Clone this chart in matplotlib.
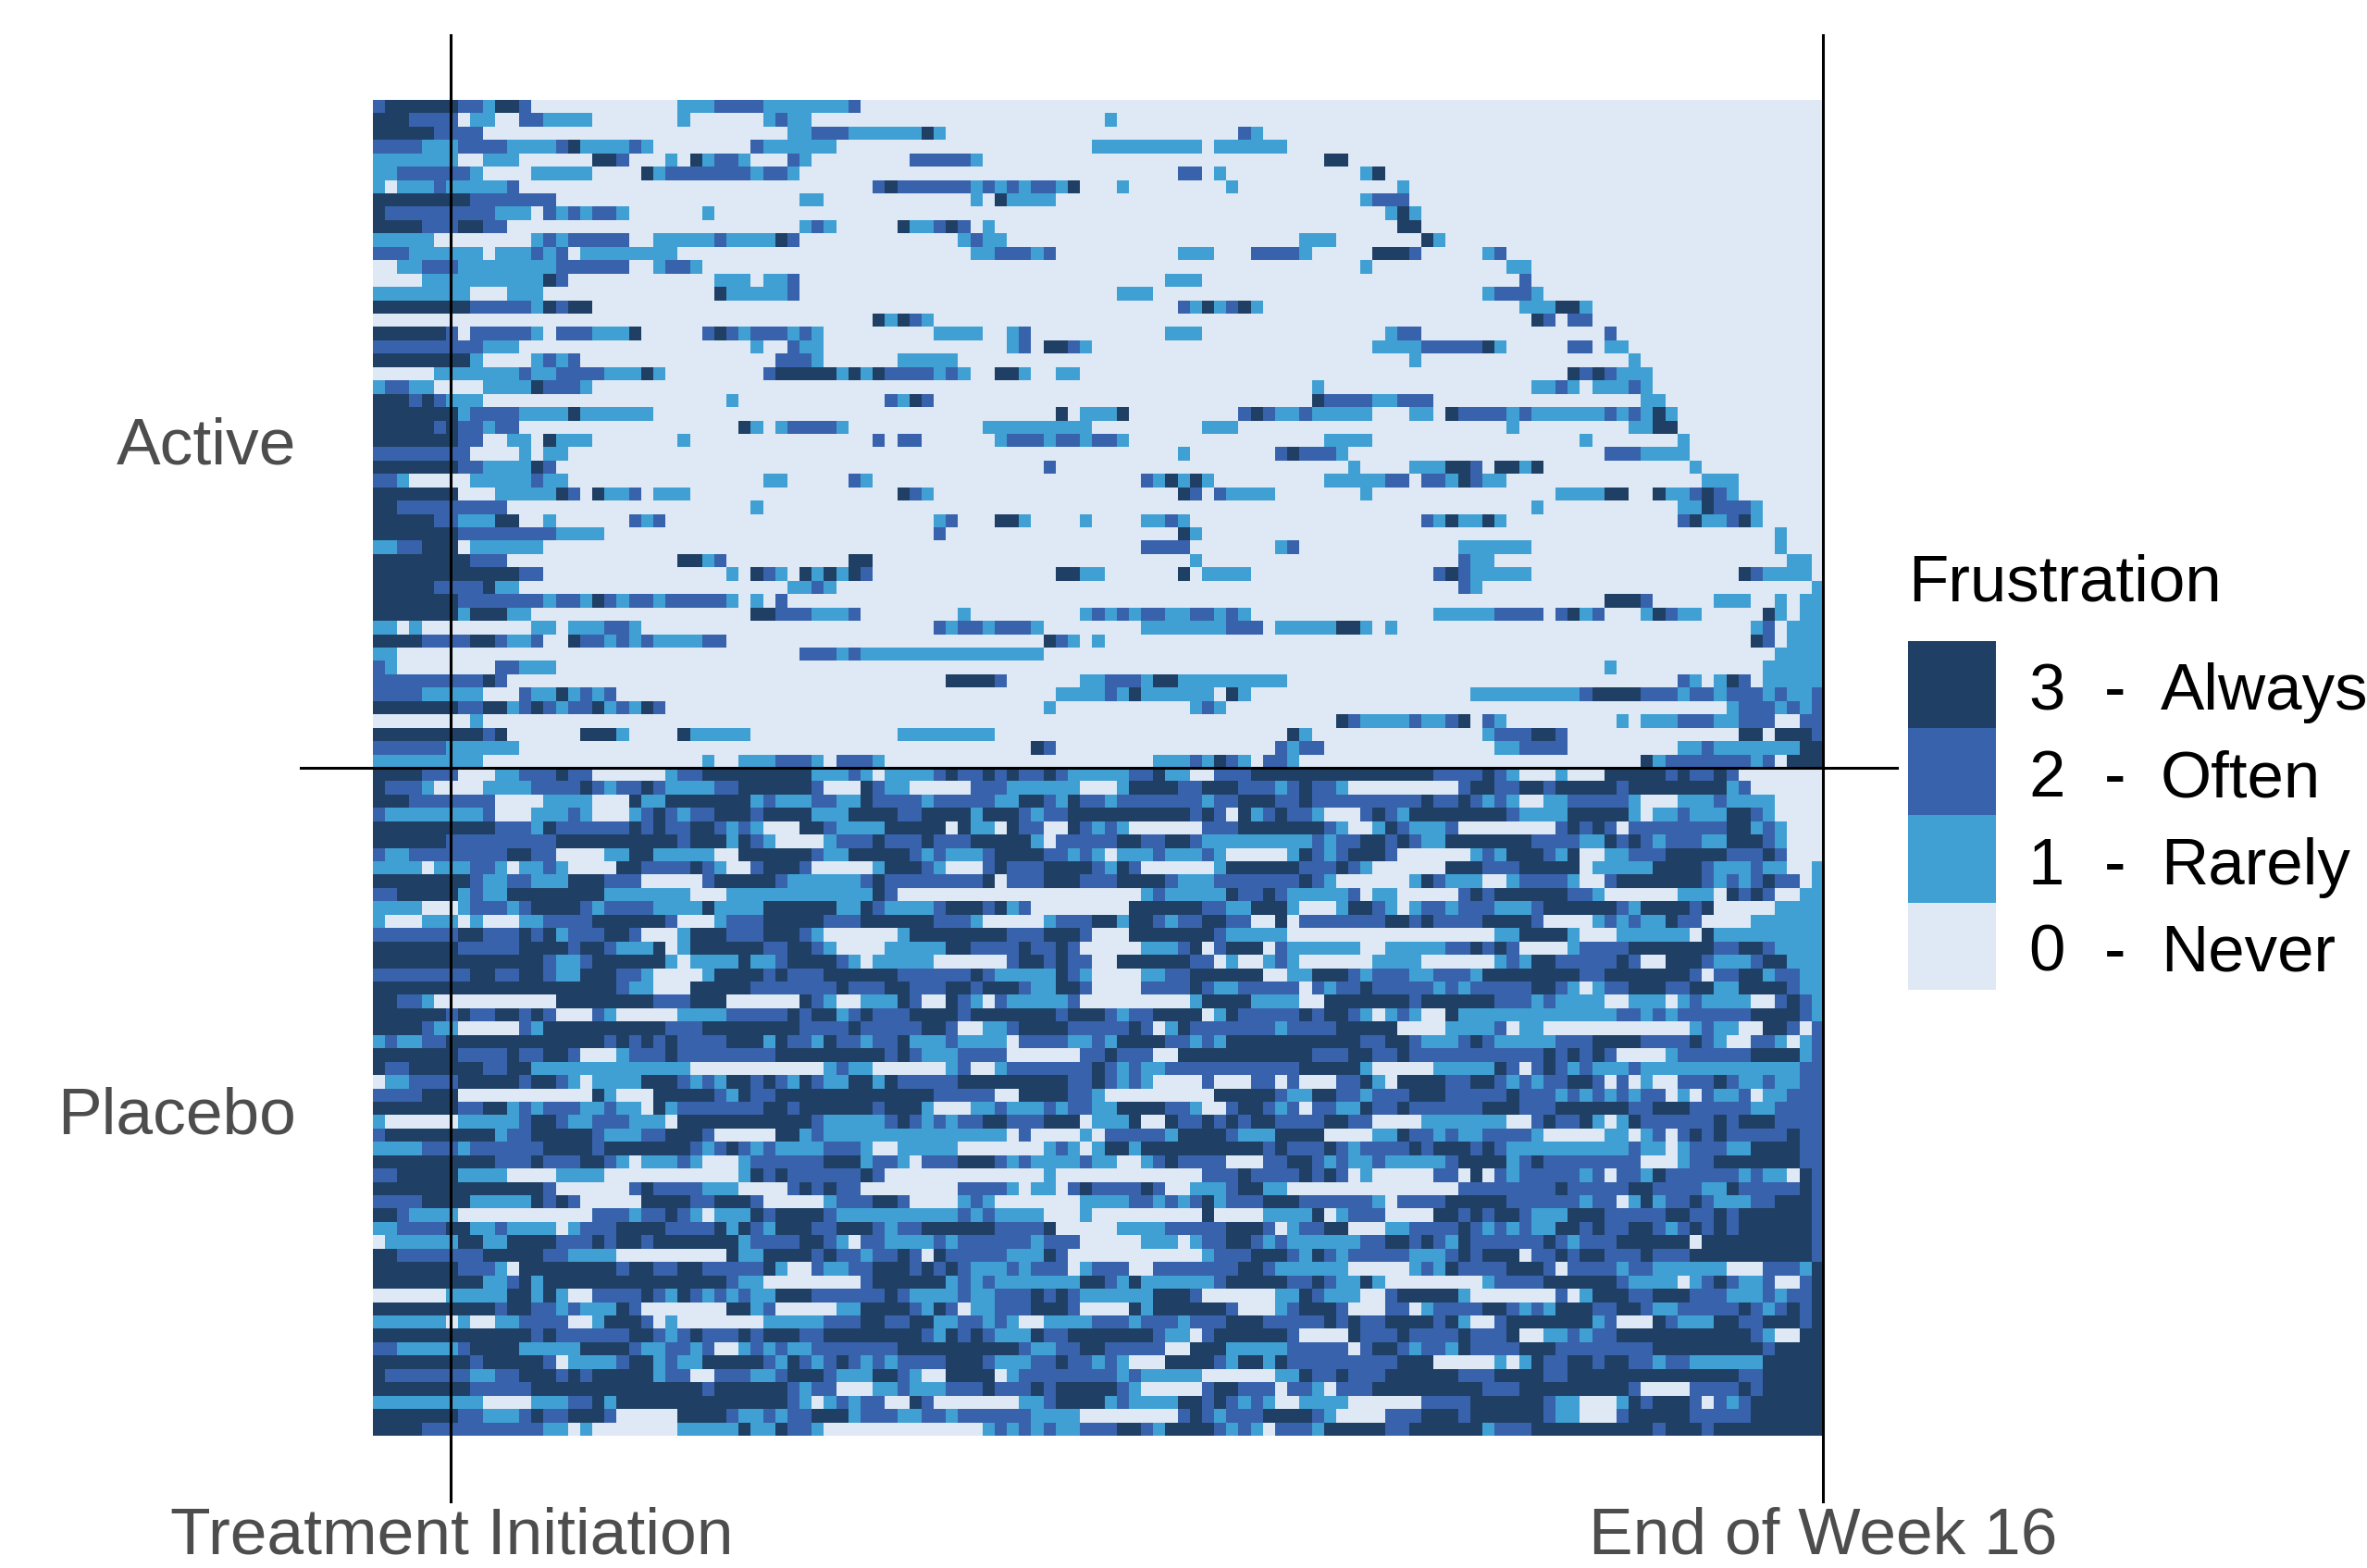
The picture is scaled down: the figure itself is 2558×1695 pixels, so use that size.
import numpy as np
import matplotlib
matplotlib.use('Agg')
import matplotlib.pyplot as plt
from matplotlib.colors import ListedColormap

plt.rcParams['font.family'] = ['Liberation Sans', 'DejaVu Sans']

# each row is a list of "first column:score" changes, 0 until the first one
n_days = 119
active_rows = [
    "0:2 1:3 7:2 9:1 10:3 12:2 13:0 25:1 28:2 32:1 39:2 40:0",
    "0:3 3:2 7:0 8:1 10:0 12:2 14:1 18:0 25:1 26:0 32:1 33:2 34:1 36:0 60:1 61:0",
    "0:3 5:2 9:0 34:1 36:2 39:1 45:3 46:1 47:0 71:2 72:1 73:0",
    "0:2 4:1 7:2 11:1 15:2 16:3 17:1 21:2 22:1 23:0 31:2 32:1 38:0 59:1 68:0 69:1 75:0",
    "0:1 7:0 9:1 12:0 18:3 20:2 21:0 24:1 25:0 26:3 27:1 28:2 30:1 31:0 34:2 35:1 36:0 44:2 49:1 50:0 78:3 80:0",
    "0:1 2:2 8:1 9:0 13:1 18:0 22:3 23:1 24:2 31:1 32:2 34:1 35:0 66:2 68:0 69:1 70:0 81:1 82:3 83:0",
    "0:1 1:0 2:1 5:2 6:1 11:2 12:0 41:2 42:3 43:2 49:1 50:2 51:1 52:2 53:1 54:2 56:1 57:3 58:0 61:1 62:0 70:1 71:0 84:1 85:0",
    "0:3 8:2 15:0 35:1 37:0 49:1 50:0 51:3 52:1 56:0 81:1 82:2 85:0",
    "0:3 1:2 10:1 13:0 14:2 15:1 16:2 17:1 18:2 20:1 21:0 27:1 28:0 83:1 84:3 85:1 86:0",
    "0:3 4:2 7:3 9:2 11:0 35:1 36:2 37:1 38:0 43:3 44:1 46:2 47:3 48:2 49:0 50:1 51:0 84:3 86:0",
    "0:1 5:0 13:1 14:2 15:1 16:2 21:0 23:1 28:2 29:1 33:3 34:2 35:0 48:1 49:2 50:1 52:0 76:1 79:0 86:3 87:1 88:0",
    "0:2 3:1 9:0 10:1 13:2 14:1 15:2 16:0 17:1 25:0 49:1 51:2 54:1 55:2 56:0 66:1 69:0 72:2 76:1 77:0 82:3 85:2 86:0 91:1 92:2 93:0",
    "0:0 2:1 4:2 7:1 15:2 21:0 23:1 24:2 26:1 27:0 81:1 82:0 93:1 95:0",
    "4:1 14:3 15:2 16:0 28:1 31:0 32:1 34:2 35:0 65:1 68:0 94:2 95:0",
    "0:1 8:0 11:1 14:0 28:3 29:1 34:2 35:0 61:1 64:0 91:1 92:2 95:1 96:0",
    "0:3 8:2 13:1 14:3 15:2 16:3 18:0 66:2 67:1 68:3 69:1 70:2 71:3 72:1 73:0 94:1 97:3 99:1 100:0",
    "41:3 42:1 43:3 44:2 45:1 46:0 95:3 96:2 97:0 98:2 100:0",
    "0:3 6:2 7:0 8:2 13:1 14:0 15:2 18:1 21:3 22:0 27:2 28:3 29:2 30:1 31:2 34:1 35:2 36:1 37:0 46:1 50:0 52:1 53:2 54:0 65:1 68:0 83:1 84:2 86:0 101:2 102:0",
    "0:2 9:1 12:0 31:1 32:0 34:2 35:1 37:0 52:1 53:2 54:0 55:3 57:2 58:1 59:0 82:1 86:2 91:3 92:1 93:0 98:2 100:0 101:1 103:0",
    "0:3 8:1 9:0 13:1 14:2 15:1 16:2 17:0 33:2 36:1 37:0 43:1 48:0 85:1 86:0 103:1 104:0",
    "5:1 12:2 13:1 15:2 19:1 22:3 23:1 24:0 32:2 33:3 38:1 39:3 40:1 41:3 42:2 46:1 47:2 48:1 49:0 51:3 53:1 54:0 56:1 58:0 98:3 99:2 100:3 101:2 102:1 105:0",
    "0:1 1:2 3:1 5:0 9:1 13:3 14:2 17:1 18:0 77:1 78:0 95:1 97:2 98:1 99:0 100:1 103:2 104:1 105:0",
    "0:3 3:2 4:3 5:2 6:1 9:0 29:1 30:0 42:2 43:1 44:3 45:2 46:0 77:3 78:2 82:1 84:2 87:0 104:1 106:0",
    "0:3 7:1 8:2 12:1 16:3 17:1 23:0 56:3 57:0 58:1 61:3 62:0 71:2 72:3 73:2 74:1 76:2 77:1 82:0 85:1 87:0 88:3 89:2 93:1 94:2 95:1 101:2 102:1 103:2 104:1 105:3 106:1 107:0",
    "0:3 5:2 6:3 7:2 9:1 10:2 12:0 30:3 31:1 32:0 33:1 34:2 38:1 39:0 50:1 59:0 68:1 71:0 93:1 94:0 103:1 105:3 107:0",
    "0:3 7:2 9:0 11:1 13:0 14:3 15:1 18:0 25:1 26:0 41:2 42:0 43:2 45:0 51:1 52:2 55:1 56:2 58:1 59:2 61:1 62:0 78:1 82:0 99:1 100:0 107:1 108:0",
    "0:2 8:0 12:1 13:0 14:1 16:0 66:1 67:0 74:2 75:3 76:2 79:1 80:0 101:2 104:1 108:0",
    "0:3 7:2 9:1 13:3 14:2 15:0 55:2 56:0 80:1 81:0 85:1 88:3 90:2 91:0 92:3 94:1 95:3 96:0 108:1 109:0",
    "0:2 2:1 3:0 8:1 13:2 14:1 16:0 32:1 34:0 39:2 40:1 41:0 63:2 64:1 65:3 66:1 67:3 68:1 69:0 78:1 83:2 85:0 86:2 88:1 89:3 90:2 91:1 93:0 109:1 112:0",
    "0:3 7:0 10:1 15:3 16:2 17:0 18:3 19:1 21:2 22:0 23:1 26:0 43:3 44:2 45:1 46:0 66:3 67:2 68:0 69:2 70:1 74:0 81:1 82:0 97:1 101:3 103:0 105:3 106:1 108:2 109:3 110:2 111:1 112:0",
    "0:3 2:2 11:0 31:1 32:0 95:1 96:0 107:1 109:3 110:2 113:1 114:0",
    "0:3 5:2 7:1 10:3 12:0 14:1 15:0 21:2 22:1 23:2 24:0 46:1 47:2 48:0 51:3 53:1 54:0 58:1 59:0 63:1 65:2 66:1 67:0 86:2 87:1 88:3 89:1 91:3 92:1 93:0 107:2 108:3 109:1 111:2 112:3 113:1 114:0",
    "0:3 7:2 15:1 19:0 46:2 47:0 66:3 67:1 68:0 115:1 116:0",
    "0:1 2:2 4:3 7:0 8:1 14:0 63:2 67:0 74:1 75:2 76:0 89:1 95:0 115:1 116:0",
    "0:3 8:2 11:0 25:3 27:1 28:2 29:0 39:3 41:0 67:1 68:0 89:2 90:1 92:0 116:1 118:0",
    "0:3 12:2 14:0 29:1 30:0 31:3 32:2 33:1 34:0 35:3 36:1 37:3 38:1 39:3 40:2 41:0 56:3 58:1 60:0 66:3 67:0 68:1 72:0 87:2 88:3 89:2 90:1 95:0 112:3 113:2 114:1 118:0",
    "0:3 5:2 9:3 10:1 12:0 34:1 36:2 37:1 38:0 89:2 90:1 91:0 118:1",
    "0:3 7:2 14:1 15:2 17:1 18:3 19:2 20:1 21:2 23:1 24:2 29:1 30:0 31:1 32:0 33:2 34:0 101:3 104:2 105:0 110:1 113:0 115:1 116:0 117:1",
    "0:3 7:1 8:3 11:1 13:0 31:3 33:2 36:1 39:2 40:0 48:1 49:0 58:1 59:2 60:1 61:2 62:1 63:2 65:1 67:2 69:1 70:2 71:1 72:0 87:1 92:2 96:0 97:2 98:3 99:1 100:2 101:0 104:1 105:3 106:2 107:1 109:0 114:3 115:1 116:0 117:1",
    "0:1 2:0 3:1 4:0 13:1 15:0 16:1 19:2 21:1 22:0 46:2 47:1 48:2 50:1 51:2 54:1 55:0 63:1 70:2 73:0 74:1 79:3 81:1 82:0 83:1 84:0 113:1 114:2 115:0 116:1",
    "0:3 4:2 8:3 10:2 11:1 13:2 14:0 16:3 17:2 19:1 20:2 21:1 22:2 23:1 27:2 29:0 55:3 56:2 57:1 58:0 59:1 60:0 113:3 114:2 115:0 116:1",
    "0:1 2:0 35:2 38:1 39:2 40:1 55:0 115:1",
    "0:2 1:1 2:0 10:2 12:1 15:0 101:1 102:0 114:1",
    "0:2 9:3 10:2 11:0 47:3 51:2 52:0 58:1 60:2 63:1 64:3 66:1 75:0 107:2 108:1 109:0 110:1 111:3 112:2 113:0 114:1",
    "0:2 4:1 9:0 12:2 13:1 15:3 16:1 17:2 18:1 19:2 20:0 56:1 60:2 61:1 62:3 63:1 69:0 70:3 71:1 72:0 90:1 99:2 100:3 104:2 107:1 108:2 110:1 111:2 114:1 115:2 116:1 118:2",
    "0:3 7:2 9:3 11:1 12:2 13:3 14:2 15:1 16:2 18:3 19:1 20:2 21:1 22:3 23:2 24:0 55:1 56:0 67:1 68:2 69:1 70:0 111:1 112:2 115:1 116:2 117:1 118:2",
    "8:1 9:0 79:3 80:2 81:1 85:2 86:1 88:2 89:3 90:0 91:2 92:1 93:0 102:1 103:0 104:1 107:2 110:1 112:2 115:0 117:2",
    "0:3 9:2 10:3 11:0 17:3 20:1 21:0 25:3 26:1 31:0 43:1 51:0 75:3 76:1 77:0 91:1 92:2 95:3 97:2 98:0 112:3 114:0 115:3 118:2",
    "0:2 6:1 12:0 54:3 55:2 56:0 74:2 75:1 76:2 78:0 92:1 94:2 98:0 107:1 109:2 110:1 117:3",
    "0:1 9:0 27:1 28:0 30:1 33:2 36:1 37:0 38:2 41:1 42:0 64:1 67:2 68:1 69:3 70:2 71:1 72:0 73:2 75:1 76:0 104:3 105:1 106:2 113:1 114:2 115:0 116:3",
]
placebo_rows = [
    "0:3 4:2 7:0 10:1 12:2 15:3 16:2 18:0 24:1 25:2 27:3 36:1 39:2 40:1 41:0 42:1 46:2 47:3 48:2 50:3 51:2 52:3 53:2 55:3 56:2 57:1 62:2 64:3 65:1 67:0 69:2 72:3 87:2 91:3 92:2 93:1 94:0 97:1 98:0 101:3 106:2 107:3 108:2 110:3 111:2 112:0",
    "0:3 1:2 4:1 5:0 9:1 13:2 17:3 18:2 19:1 20:2 22:3 23:2 24:1 28:2 30:3 36:2 37:0 40:3 41:2 42:1 44:0 49:2 52:1 58:0 61:1 62:3 66:2 68:3 71:2 74:1 75:2 76:3 77:2 79:1 80:0 89:2 90:3 92:2 94:3 96:2 97:3 102:2 103:3 111:1 112:2 113:0",
    "0:3 3:2 10:0 14:1 18:0 21:3 22:1 24:3 31:1 32:2 33:1 36:2 38:1 40:3 41:2 45:1 46:2 51:1 53:3 55:2 56:1 57:3 58:2 60:1 61:2 68:1 69:2 71:3 74:2 76:3 77:2 86:3 87:2 89:3 90:2 91:1 92:2 93:1 94:0 96:1 98:2 103:1 104:0 107:1 110:2 111:1 115:0",
    "0:2 1:1 9:2 10:0 13:1 16:2 17:1 18:0 21:1 22:2 23:3 24:2 25:1 26:2 28:3 31:2 32:3 36:1 39:3 43:2 45:3 49:1 50:3 53:2 54:1 55:2 57:3 67:2 68:3 69:2 70:0 71:3 72:1 73:2 74:3 75:2 77:1 78:0 81:2 82:3 83:2 84:1 85:3 93:2 94:1 98:3 103:1 104:0 105:1 107:2 108:1 111:3 113:2 114:1 115:0",
    "0:3 10:2 13:1 14:3 15:2 21:3 22:2 23:3 24:2 26:3 28:2 29:1 30:2 31:1 32:0 35:3 37:2 38:1 42:3 47:0 48:3 49:1 51:0 52:3 53:2 55:0 57:3 58:2 59:1 60:2 61:1 62:0 68:2 71:3 78:2 79:1 80:0 82:1 83:3 84:2 85:1 88:2 89:0 97:2 98:3 99:2 100:3 101:2 102:0 103:2 111:3 113:1 114:2 115:1 116:0",
    "0:3 6:2 15:3 25:2 26:3 29:1 30:3 31:2 32:1 33:0 37:1 38:2 41:3 42:2 45:3 46:2 49:3 54:1 55:0 56:2 61:3 63:2 65:3 67:2 68:1 77:2 78:1 79:2 81:3 83:2 84:3 85:2 86:1 88:3 95:2 99:1 101:3 102:2 103:3 104:2 105:1 106:2 109:1 111:3 114:2 115:1 116:0",
    "0:2 1:1 3:2 11:3 13:2 15:0 19:1 21:3 23:1 28:0 30:3 36:2 37:1 39:3 44:2 45:1 46:2 47:1 50:2 51:3 55:2 57:1 58:2 59:1 60:0 61:1 64:2 65:1 68:2 69:1 70:0 75:1 76:3 77:2 78:1 79:2 80:3 83:2 84:0 90:1 91:2 92:1 93:3 96:2 97:1 98:3 99:0 101:1 103:2 106:3 111:2 114:3 115:2 116:0",
    "0:1 4:0 5:1 8:2 10:1 11:0 12:1 14:2 15:1 16:0 20:3 22:2 26:3 27:2 28:1 29:0 31:2 32:3 35:2 36:0 41:1 42:3 45:2 46:1 47:0 50:2 51:3 52:2 55:3 59:2 60:1 61:3 62:2 63:0 69:1 70:3 76:2 79:3 80:2 81:1 82:0 88:3 91:2 94:3 99:0 100:1 105:3 109:2 110:1 113:2 114:1 116:0 118:1",
    "0:3 8:2 9:1 11:2 13:1 16:3 19:2 22:0 27:2 28:3 33:2 34:1 40:2 41:3 42:2 50:3 51:0 52:2 55:3 58:2 61:3 65:2 66:1 69:2 76:3 77:2 78:1 79:0 85:1 86:3 87:2 88:1 91:0 93:1 94:2 98:1 99:0 101:2 102:3 109:2 110:1 111:2 112:1 113:2 114:3 115:2 117:0 118:1",
    "0:2 2:3 7:1 8:2 9:1 11:3 19:1 26:0 29:1 41:3 42:2 43:0 63:1 64:2 65:1 70:3 71:2 73:3 74:2 75:1 80:2 81:0 82:1 84:0 89:2 90:3 91:2 92:3 98:2 100:1 101:0 107:1 110:0 111:3 112:2 113:3 114:2 115:0 117:1",
    "0:1 4:0 7:1 8:2 11:1 12:2 13:3 17:2 18:1 19:2 23:1 27:3 28:1 32:3 38:1 40:3 41:2 42:1 46:2 47:3 50:2 51:3 52:1 53:2 54:0 62:3 68:2 70:1 72:3 75:1 76:0 79:1 80:3 82:2 83:1 84:0 85:1 86:2 88:1 89:2 92:1 95:2 96:3 102:2 103:1 104:3 108:2 109:3 110:0 115:1",
    "0:1 1:0 4:1 7:0 8:1 9:0 12:1 14:2 18:3 24:2 25:0 28:1 29:2 32:3 37:2 40:3 46:2 49:1 50:0 55:1 56:2 59:3 61:1 62:3 64:2 65:1 66:2 68:3 70:2 72:0 74:3 75:0 76:2 83:3 85:2 86:3 87:2 91:3 95:2 96:0 100:1 101:2 102:1 103:2 104:1 106:3 107:2 109:0 113:1",
    "0:2 7:3 9:2 12:3 13:2 14:3 15:1 16:2 19:3 21:2 22:0 25:1 26:3 29:2 32:3 35:2 36:1 37:0 43:1 44:3 52:2 55:3 58:2 59:0 62:3 69:2 70:1 75:0 92:1 94:3 98:1 99:0 102:1 108:0 109:3 110:1",
    "0:3 7:2 12:3 16:2 17:3 19:2 20:1 23:3 24:0 25:1 26:3 32:2 34:3 36:2 37:1 38:0 42:1 47:3 49:2 53:3 54:2 56:3 57:2 58:0 63:1 66:2 67:3 68:0 69:2 70:3 73:0 74:2 75:1 81:0 83:1 88:2 90:3 91:2 92:3 93:2 94:0 98:1 99:2 103:3 110:2 112:3 114:2 115:1",
    "0:3 14:2 15:1 17:2 18:3 24:1 25:0 26:1 30:3 31:1 33:2 34:3 38:2 39:1 40:0 41:1 46:0 52:2 53:3 55:2 56:3 57:2 59:0 61:3 67:2 69:0 70:1 71:0 73:1 74:2 75:1 76:0 82:1 86:0 92:1 93:2 94:1 95:3 97:2 102:3 103:2 104:0 106:3 109:2 110:1 113:2 114:3 116:1",
    "0:2 8:3 10:2 12:3 14:2 15:1 17:3 20:2 22:1 23:0 27:1 28:3 32:2 33:3 34:2 37:3 43:2 49:3 50:2 51:1 56:3 57:2 58:1 59:0 63:1 65:2 67:3 73:0 75:1 77:3 80:2 81:1 82:2 85:1 87:2 90:1 91:3 99:2 101:3 108:2 109:0 110:2 112:3 114:1 115:2 117:1",
    "0:3 20:2 21:1 23:0 26:3 31:2 38:3 39:2 42:3 44:2 47:3 49:2 50:3 53:2 54:1 56:3 58:2 59:0 63:2 67:3 68:2 69:1 71:2 76:0 77:2 78:1 79:2 81:3 82:2 87:1 88:2 89:1 90:2 95:3 97:2 98:1 99:0 100:1 101:2 103:3 106:2 108:3 110:1 112:3 116:2 117:1",
    "0:3 2:2 4:1 5:0 15:3 23:2 26:3 29:0 35:3 36:2 37:1 38:0 40:1 43:3 44:2 45:0 47:3 48:2 49:1 50:0 51:2 52:1 57:2 58:0 67:1 68:3 72:1 76:0 78:3 85:2 86:3 92:2 95:1 96:2 97:1 101:0 103:1 106:0 107:1 108:2 109:1 113:0 115:2 116:3 117:2 118:1",
    "0:3 6:2 7:3 8:2 10:3 12:2 13:3 14:2 15:0 18:2 19:1 20:0 25:1 29:2 34:3 35:2 36:3 38:1 39:2 40:3 41:2 44:3 48:2 49:3 56:2 57:3 60:2 61:1 62:2 64:3 68:0 69:1 70:3 71:2 76:3 77:2 78:3 80:2 81:1 82:0 83:1 84:2 85:1 86:0 88:3 89:1 102:2 104:1 105:2 106:1 107:2 113:3 117:2 118:1",
    "0:3 4:2 5:1 7:0 12:2 13:1 14:3 24:2 27:3 35:2 39:3 40:2 45:3 47:2 48:0 50:1 52:2 53:3 57:2 62:3 63:2 64:0 65:1 66:3 67:2 74:1 75:2 79:3 84:0 88:1 92:2 93:0 94:1 96:0 108:1 109:2 110:1 112:0 114:3 116:2 117:0 118:2",
    "0:1 1:2 2:1 4:2 6:3 19:2 20:3 21:2 22:3 23:2 24:3 25:2 29:3 32:1 33:3 34:2 36:1 37:3 38:2 40:1 41:2 43:3 44:1 47:2 48:1 52:0 53:2 57:1 59:2 60:1 61:3 65:2 67:1 68:2 69:1 70:3 81:2 83:3 85:2 86:1 89:2 90:3 91:2 92:1 97:2 100:3 104:2 108:3 109:2 110:1 111:0 113:2 115:1 116:0 117:1 118:2",
    "0:3 7:2 11:3 12:2 14:3 16:2 17:0 20:1 21:2 24:3 25:2 33:3 42:2 43:3 44:2 45:1 48:2 52:0 58:2 60:3 61:2 64:0 66:3 77:2 80:3 82:2 84:3 85:2 96:3 97:2 98:3 99:2 100:3 101:2 102:0 106:1 107:2 113:3 117:1 118:2",
    "0:3 1:2 3:3 9:2 11:3 13:1 26:0 37:1 38:2 39:1 41:0 47:1 48:2 49:0 51:1 52:2 59:3 60:2 61:1 62:2 63:1 65:2 76:3 81:1 82:0 87:1 92:3 93:2 94:0 95:2 96:3 97:2 98:1 99:2 100:1 103:2 104:1 117:2",
    "0:0 1:1 3:2 7:3 12:2 13:3 15:2 16:1 17:0 18:1 22:3 25:2 26:1 27:2 28:1 29:3 31:2 32:3 33:2 34:1 35:3 36:2 37:1 39:3 41:1 42:3 43:2 48:3 57:2 59:3 60:2 61:1 62:2 63:1 64:0 68:2 69:0 72:2 74:0 75:2 76:0 79:2 81:3 82:1 83:0 84:3 88:2 90:3 92:2 93:1 94:2 95:1 96:2 98:3 100:2 101:0 102:2 103:0 104:1 105:0 107:2 110:3 111:2 112:1 114:2 115:1 117:2",
    "0:2 4:3 7:0 18:3 19:1 20:0 23:3 28:2 29:1 30:3 31:2 33:3 46:2 51:0 53:3 57:2 59:1 60:0 69:3 74:2 75:1 77:3 79:2 81:1 82:2 85:3 88:2 93:3 94:2 97:1 98:2 99:1 100:2 101:1 102:2 103:1 104:2 106:0 107:1 108:0 109:2 110:1 112:2 113:0 114:1 116:2",
    "0:3 7:2 9:3 11:1 12:2 13:1 14:2 17:1 19:2 20:1 22:0 23:3 24:1 25:2 32:3 34:2 35:3 41:2 42:3 45:1 46:0 49:1 51:2 52:1 55:2 56:1 57:2 59:1 61:3 65:2 67:1 68:0 70:2 71:3 73:2 74:1 75:2 76:0 77:2 79:1 81:3 82:2 84:3 85:2 91:3 94:2 97:3 103:2 105:3 108:2 113:1 115:2",
    "0:1 1:0 7:1 12:2 13:3 15:2 16:1 18:2 21:1 24:0 25:3 36:2 37:1 42:2 43:3 44:2 45:1 46:2 47:1 48:2 50:3 52:2 55:3 58:0 59:1 62:3 63:0 65:3 66:2 68:3 69:2 70:3 71:2 72:3 74:2 78:3 80:2 82:0 86:1 93:0 95:2 96:3 97:2 99:3 100:1 101:0 102:1 103:3 104:2 110:3 111:2 112:3 115:2",
    "0:2 1:3 10:1 11:2 13:3 18:2 19:1 22:2 24:3 27:2 28:0 33:3 35:1 36:2 37:1 52:0 53:2 54:0 58:1 59:0 60:2 65:1 66:3 70:2 71:1 74:3 78:0 82:1 84:3 85:2 87:1 88:2 89:1 91:2 95:1 96:0 101:1 103:0 104:1 105:2 106:0 107:2 108:3 109:2 110:3 111:2 116:3 117:2",
    "0:1 4:2 7:1 8:2 14:3 18:2 19:3 26:2 27:1 28:2 29:3 30:2 31:1 32:2 33:1 37:2 40:1 41:0 43:1 48:0 55:1 56:2 57:1 58:0 59:1 60:3 62:1 63:3 73:2 74:3 75:2 78:3 79:2 80:1 81:2 85:3 86:2 87:3 90:2 91:3 92:2 93:1 103:2 104:1 106:0 107:1 108:2 111:1 113:3 117:2",
    "0:3 10:2 13:3 14:2 17:3 19:2 20:1 21:0 22:1 25:2 26:1 27:0 30:1 31:2 37:3 40:1 41:2 43:1 44:0 45:2 48:3 51:2 52:1 53:2 54:1 58:2 59:1 61:0 63:1 64:2 65:3 66:2 70:0 73:2 75:3 77:2 78:1 79:2 80:1 82:2 83:1 88:2 89:3 93:1 94:2 95:3 96:2 104:0 107:1 108:2 110:3 117:2",
    "0:2 2:3 7:1 11:0 15:1 19:0 30:1 31:3 32:2 33:3 34:2 40:3 41:2 42:0 55:1 56:0 68:2 71:3 72:2 76:3 77:2 78:3 79:2 80:0 81:1 82:0 87:2 89:0 90:3 91:0 92:2 93:1 94:2 99:1 100:2 101:0 102:2 104:1 105:3 106:2 112:1 113:2 114:1 116:0 117:3 118:2",
    "0:3 14:2 15:0 21:2 22:3 23:2 27:1 30:0 34:2 35:3 36:2 37:3 38:2 40:0 48:2 52:1 53:0 54:1 56:0 57:2 58:3 59:2 63:3 64:2 65:0 67:1 70:2 71:3 73:1 75:0 89:2 97:3 98:2 103:3 105:2 109:1 111:3 112:2 117:3 118:2",
    "0:2 4:3 8:1 13:3 14:2 15:3 16:2 17:0 22:3 26:2 28:3 31:2 32:0 37:1 38:2 41:3 43:2 44:0 48:1 49:2 50:1 51:0 58:1 62:2 64:1 65:2 66:1 67:2 68:3 69:1 70:2 73:3 76:2 82:1 83:0 84:2 88:3 93:2 99:1 100:2 102:0 103:1 104:3 105:1 106:2 108:3 109:2 110:1 113:2 115:3 118:2",
    "0:3 2:2 3:1 7:0 18:2 21:1 22:2 24:3 25:2 26:1 27:0 28:1 31:3 32:2 33:3 37:2 38:1 48:2 49:1 50:2 51:1 55:0 58:1 59:0 68:3 69:0 73:1 77:3 78:0 79:1 80:2 83:0 87:3 89:2 90:3 91:2 92:3 94:2 95:1 98:3 101:2 106:3 108:2 110:3 111:2 112:3 118:2",
    "0:1 2:2 6:3 8:1 10:2 11:1 15:0 16:1 17:2 20:3 24:2 28:3 29:1 30:3 31:2 32:1 33:3 36:2 38:3 41:2 42:1 43:2 45:3 51:2 55:3 56:0 61:1 65:2 70:3 73:2 74:0 75:1 76:2 78:3 80:0 83:1 85:2 89:3 90:2 91:1 92:2 93:1 94:2 95:1 97:3 99:2 100:3 101:2 103:3 105:2 106:1 107:2 108:3 109:2 110:3 111:2 112:3 118:2",
    "0:0 1:1 7:3 9:1 11:3 15:2 18:3 19:2 20:3 22:2 23:3 30:1 31:2 35:3 37:2 38:1 39:0 40:2 42:1 46:2 47:1 48:2 54:1 55:2 58:0 63:1 66:0 67:1 68:2 70:3 72:2 73:1 74:2 75:1 81:2 83:3 85:2 86:3 87:2 88:1 89:3 90:2 96:3 97:2 98:1 99:2 102:3 108:0 109:3 118:2",
    "0:3 2:2 9:3 14:2 16:1 20:0 29:3 30:1 32:3 36:2 37:3 38:2 40:1 41:2 43:3 44:2 45:0 46:3 47:2 52:1 55:3 56:2 57:0 68:1 69:2 72:3 75:2 76:1 77:3 78:2 79:1 80:2 85:1 88:2 89:3 90:2 91:3 94:0 95:2 97:3 98:2 99:3 101:2 104:3 105:2 108:3 118:2",
    "0:3 7:2 10:1 11:0 12:3 20:2 21:3 23:2 25:3 27:2 32:3 33:1 34:0 36:2 37:1 39:2 41:3 44:2 45:3 46:2 47:3 48:2 49:1 52:2 53:1 54:2 57:0 58:1 59:2 62:0 64:2 71:3 73:2 74:1 80:0 85:1 86:2 87:1 88:3 89:2 93:3 96:2 97:0 98:2 102:1 103:2 105:1 111:0 114:2 117:1 118:3",
    "0:3 9:1 11:2 12:3 13:1 14:3 29:2 30:1 32:0 40:2 41:3 47:1 48:2 49:1 50:2 51:1 58:3 60:2 61:1 62:3 63:1 69:2 70:3 75:2 77:3 78:2 79:1 81:3 82:1 83:0 91:1 92:2 96:3 102:2 103:1 107:0 108:1 109:2 110:3 111:2 112:1 114:2 115:0 117:2 118:3",
    "6:1 11:3 13:1 14:3 15:1 16:0 18:2 22:3 23:2 24:1 25:3 26:2 27:1 28:2 29:1 30:2 31:1 33:3 36:2 42:3 43:2 44:1 48:2 49:1 51:2 54:3 55:2 56:3 57:2 58:1 64:3 67:2 68:0 74:1 76:3 77:2 78:1 81:0 83:2 84:3 89:1 90:0 97:2 98:0 99:1 100:3 103:2 105:3 108:2 111:1 114:2 115:1 116:2 118:3",
    "0:3 10:2 11:3 13:2 15:1 16:2 17:1 20:3 21:2 22:0 29:3 31:1 32:2 33:0 38:1 40:3 44:2 45:1 46:3 47:2 48:0 49:1 51:2 54:3 57:2 58:0 62:3 63:1 64:3 70:2 71:0 74:1 75:2 76:3 79:2 80:0 83:2 85:0 86:1 87:2 91:3 93:2 94:1 95:2 96:1 97:3 100:2 102:3 104:2 105:1 107:2 112:3 113:2 114:1 115:2 116:3 117:2 118:3",
    "0:1 6:0 7:1 8:0 10:1 12:2 16:0 18:1 19:3 22:2 23:0 24:1 25:0 32:1 37:2 40:3 42:2 44:3 46:1 48:2 50:1 51:2 52:1 53:0 55:1 59:2 62:1 63:2 66:1 67:2 70:3 73:2 78:3 79:2 80:3 81:2 83:3 87:2 88:3 89:1 90:0 92:2 93:3 100:1 101:2 102:0 105:3 106:2 107:1 110:3 112:2 114:3 117:2 118:3",
    "0:3 13:2 14:3 15:2 21:3 23:2 24:1 25:2 26:3 27:2 30:3 31:2 32:3 35:2 37:3 45:2 46:1 47:3 48:2 49:3 50:2 51:1 54:3 55:2 57:3 64:2 65:1 67:0 68:2 69:3 75:2 76:0 80:3 81:2 84:3 85:2 89:3 90:2 93:3 94:0 96:1 98:2 99:1 100:2 102:3 113:2 114:1 115:0 117:3",
    "0:2 2:1 7:2 8:3 12:1 17:3 21:2 22:1 24:2 26:1 27:2 28:0 30:1 31:2 32:1 33:2 34:1 36:2 43:3 53:2 54:1 56:2 58:3 60:2 65:0 67:3 70:1 75:2 80:0 81:2 82:3 84:2 85:1 86:2 88:1 89:3 90:2 94:3 97:2 105:3 114:2 115:3",
    "0:3 8:2 9:3 14:2 15:0 16:1 20:2 21:3 23:1 24:2 25:1 27:3 32:2 33:1 34:3 35:2 36:1 37:2 38:3 39:2 40:1 41:2 42:1 43:2 47:3 50:2 51:1 54:2 56:3 57:2 59:1 60:2 61:1 62:0 65:3 69:2 70:1 71:3 73:1 74:3 75:2 84:3 87:0 92:1 93:0 94:1 95:3 96:2 98:3 100:2 101:3 103:2 105:1 106:2 108:1 114:3",
    "0:3 1:2 8:1 10:2 12:3 15:2 16:3 17:2 18:3 23:1 24:2 26:0 28:2 31:1 33:2 34:3 37:2 38:1 41:3 43:2 44:1 45:0 47:3 51:0 52:1 53:2 61:1 62:2 63:1 68:0 74:1 76:3 77:2 79:3 80:2 83:3 89:2 92:3 96:2 98:3 112:2 114:3",
    "0:3 8:2 13:3 27:2 28:3 34:2 35:1 36:2 38:0 41:1 43:2 44:1 47:2 50:3 51:2 54:3 55:2 56:3 61:2 62:1 63:0 68:2 69:3 71:2 74:0 75:2 77:1 78:0 79:2 82:3 91:2 94:3 103:2 104:0 108:2 112:3 113:2 114:3",
    "0:1 9:0 13:1 16:2 18:3 19:1 20:3 34:2 35:1 36:0 37:1 38:2 39:1 40:2 42:0 44:3 45:2 46:0 53:1 55:2 56:3 60:1 61:2 62:1 66:3 68:2 69:3 70:2 71:1 72:2 73:1 74:0 76:1 80:0 86:2 90:3 96:2 97:1 99:0 102:1 103:3 104:2 105:3 108:2 109:0 110:2 111:1 112:2 113:3",
    "0:3 7:2 9:1 12:2 13:3 14:2 16:3 19:2 20:0 25:3 29:2 30:1 32:2 33:1 34:2 36:3 39:1 40:2 43:1 45:2 47:1 48:2 54:1 58:0 66:2 67:3 68:2 69:1 70:2 73:3 77:2 78:1 79:0 83:2 86:3 89:2 90:3 96:2 97:1 99:0 102:2 103:3 108:2 113:3",
    "0:3 4:2 14:1 16:0 17:1 18:0 25:1 30:3 31:1 33:3 34:2 36:1 37:0 50:1 51:2 52:1 53:2 54:1 55:2 56:1 58:2 61:3 63:2 64:1 65:3 69:2 70:1 71:2 72:1 73:0 74:2 77:1 78:3 83:2 85:3 91:1 92:2 95:3 105:2 106:3 109:2 110:3",
]
scores = [3, 2, 1, 0]
score_names = ['Always', 'Often', 'Rarely', 'Never']
score_colors = ['#1F4064', '#3862AC', '#40A0D3', '#DEE9F5']
legend_title = 'Frustration'
arm_names = ['Active', 'Placebo']
time_names = ['Treatment Initiation', 'End of Week 16']
treatment_start = 6.4
treatment_end = 119


def decode_row(row):
    cells = np.zeros(n_days, dtype=int)
    for part in row.split():
        start, value = part.split(':')
        cells[int(start):] = int(value)
    return cells


W, H = 2558, 1695
left, right, top, bottom = 403, 1970, 108.3, 1552


def px_axes(x0, y0, x1, y1):
    return fig.add_axes([x0 / W, 1 - y1 / H, (x1 - x0) / W, (y1 - y0) / H])


grid = np.array([decode_row(r) for r in active_rows + placebo_rows])
cmap = ListedColormap(score_colors[::-1])

fig = plt.figure(figsize=(W / 100, H / 100), dpi=100)
ax = px_axes(left, top, right, bottom)
ax.imshow(grid, cmap=cmap, vmin=-0.5, vmax=3.5, aspect='auto', interpolation='nearest',
          extent=[0, n_days, len(grid), 0])

# reference lines run past the tiles
for x in [treatment_start, treatment_end]:
    ax.plot([x, x], [-4.9, 104.9], color='black', lw=2.2, clip_on=False)
n_active = len(active_rows)
ax.plot([-5.95, 125.1], [n_active, n_active], color='black', lw=2.2, clip_on=False)
ax.set_xlim(0, n_days)
ax.set_ylim(len(grid), 0)
ax.axis('off')

for name, y in zip(arm_names, [483, 1207]):
    fig.text(320 / W, 1 - y / H, name, ha='right', va='center', fontsize=51.4, color='#4D4D4D')
for name, x in zip(time_names, [488, 1970]):
    fig.text(x / W, 1 - 1680 / H, name, ha='center', va='baseline', fontsize=51.4, color='#4D4D4D')

# legend
leg = px_axes(2062, 693, 2157, 1070)
leg.imshow(np.array(scores).reshape(-1, 1), cmap=cmap, vmin=-0.5, vmax=3.5, aspect='auto',
           interpolation='nearest')
leg.axis('off')
fig.text(2062 / W, 1 - 649 / H, legend_title, ha='left', va='baseline', fontsize=51, color='black')
for i, (score, name) in enumerate(zip(scores, score_names)):
    base = 1 - (767 + i * 94.3) / H
    fig.text(2192 / W, base, str(score), ha='left', va='baseline', fontsize=51, color='black')
    fig.text(2274 / W, base, '-', ha='left', va='baseline', fontsize=51, color='black')
    fig.text(2335 / W, base, name, ha='left', va='baseline', fontsize=51, color='black')

fig.savefig('out.png', dpi=100, facecolor='white')
